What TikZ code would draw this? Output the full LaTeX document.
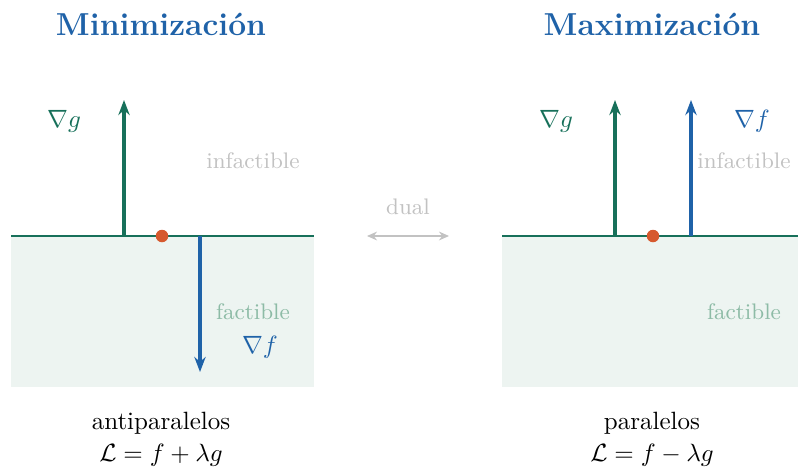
\documentclass[tikz,border=0pt]{standalone}
\usepackage{amsmath}
\usepackage{amssymb}
\usepackage{tikz}
\usepackage{xcolor}
\usetikzlibrary{arrows.meta,positioning}

\definecolor{gradg}{HTML}{17705A}
\definecolor{gradf}{HTML}{1F62A8}
\definecolor{punto}{HTML}{D6592E}
\definecolor{region}{HTML}{EDF4F1}
\definecolor{gris}{HTML}{C2C2C2}
\definecolor{fact}{HTML}{8DBBA6}

\begin{document}
\begin{tikzpicture}[
    x=0.4pt, y=-0.4pt,
    titulo/.style={font=\fontsize{12.7}{15}\selectfont\bfseries, text=gradf},
    vecg/.style={-{Stealth[length=6pt,width=4.5pt]}, gradg, line width=1.3pt},
    vecf/.style={-{Stealth[length=6pt,width=4.5pt]}, gradf, line width=1.3pt},
    borde/.style={gradg, line width=0.8pt},
    zona/.style={fill=region, draw=none},
    infact/.style={font=\small, text=gris},
    fact/.style={font=\small, text=fact},
    etiq/.style={inner sep=1pt}
]
\useasboundingbox (0,0) rectangle (798,468);

% Titles
\node[titulo] (tmin) at (161,24) {Minimización};
\node[titulo] (tmax) at (652,24) {Maximización};

% Minimization panel
\fill[zona] (11,236) rectangle (314,387);
\coordinate (bminL) at (11,236);
\coordinate (bminR) at (314,236);
\draw[borde] (bminL) -- (bminR);
\coordinate (gmin0) at (124,236);
\coordinate (gmin1) at (124,100);
\coordinate (fmin0) at (200,236);
\coordinate (fmin1) at (200,372);
\draw[vecg] (gmin0) -- (gmin1);
\draw[vecf] (fmin0) -- (fmin1);
\fill[punto] (162,236) circle (2.5pt);
\node[etiq, text=gradg] (ngmin) at (64,121) {$\nabla g$};
\node[infact] (imin) at (253,161) {infactible};
\node[fact] (fmin) at (253,312) {factible};
\node[etiq, text=gradf] (nfmin) at (260,347) {$\nabla f$};

% Dual
\node[font=\small, text=gris] (dual) at (408,207) {dual};
\coordinate (d0) at (367,236);
\coordinate (d1) at (449,236);
\draw[{Stealth[length=4pt,width=3.5pt]}-{Stealth[length=4pt,width=3.5pt]}, gris, line width=0.8pt] (d0) -- (d1);

% Maximization panel
\fill[zona] (502,236) rectangle (798,387);
\coordinate (bmaxL) at (502,236);
\coordinate (bmaxR) at (798,236);
\draw[borde] (bmaxL) -- (bmaxR);
\coordinate (gmax0) at (615,236);
\coordinate (gmax1) at (615,100);
\coordinate (fmax0) at (691,236);
\coordinate (fmax1) at (691,100);
\draw[vecg] (gmax0) -- (gmax1);
\draw[vecf] (fmax0) -- (fmax1);
\fill[punto] (653,236) circle (2.5pt);
\node[etiq, text=gradg] (ngmax) at (556,121) {$\nabla g$};
\node[etiq, text=gradf] (nfmax) at (752,121) {$\nabla f$};
\node[infact] (imax) at (744,161) {infactible};
\node[fact] (fmax) at (744,312) {factible};

% Captions
\node (cmin) at (161,423) {antiparalelos};
\node[below=-3pt of cmin] (emin) {$\mathcal{L} = f + \lambda g$};
\node (cmax) at (652,423) {paralelos};
\node[below=-3pt of cmax] (emax) {$\mathcal{L} = f - \lambda g$};

\end{tikzpicture}
\end{document}
